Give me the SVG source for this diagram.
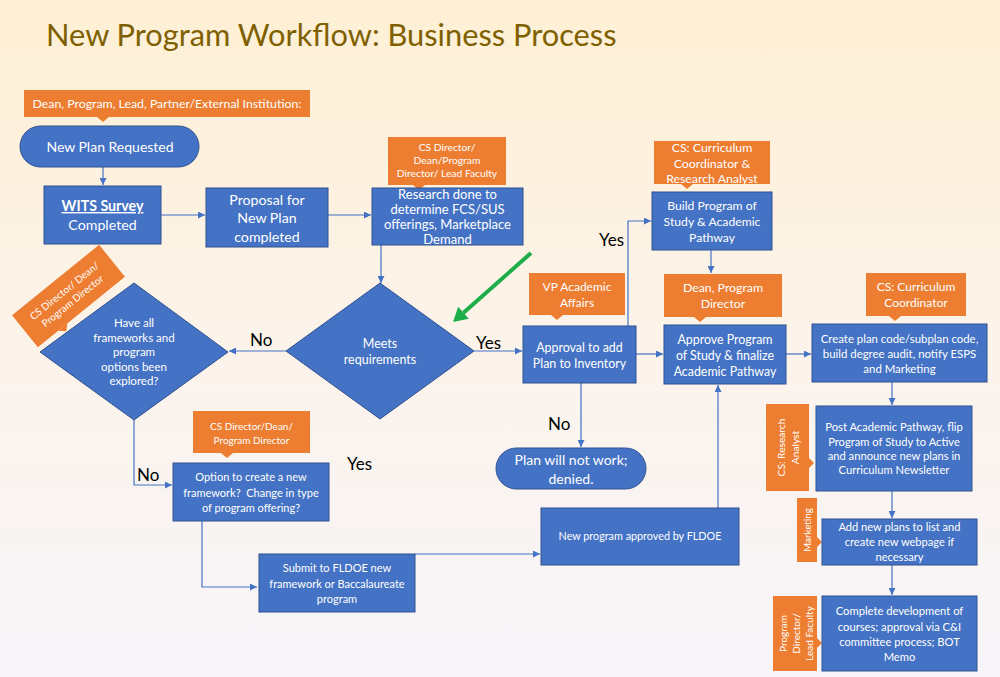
<svg xmlns="http://www.w3.org/2000/svg" width="1000" height="677" viewBox="0 0 1000 677">
<defs>
<linearGradient id="bg" x1="0" y1="0" x2="0" y2="1">
<stop offset="0" stop-color="#FEF0D4"/>
<stop offset="0.5" stop-color="#FCF3EA"/>
<stop offset="1" stop-color="#F7F5FA"/>
</linearGradient>
<marker id="ah" viewBox="0 0 10 10" refX="10" refY="5" markerWidth="7" markerHeight="7" markerUnits="userSpaceOnUse" orient="auto">
<path d="M0,0 L10,5 L0,10 z" fill="#4472C4"/>
</marker>
<style>
.box{fill:#4472C4;stroke:#2F528F;stroke-width:1}
.lab{fill:#ED7D31}
.t{font-family:Lato,"Liberation Sans",sans-serif;fill:#fff;text-anchor:middle}
.k{font-family:Lato,"Liberation Sans",sans-serif;fill:#000;font-size:17px}
.c{fill:none;stroke:#4472C4;stroke-width:1.2;marker-end:url(#ah)}
</style>
</defs>
<rect width="1000" height="677" fill="url(#bg)"/>
<text x="46" y="46" font-family="Lato,'Liberation Sans',sans-serif" font-size="30.8" fill="#7F6000">New Program Workflow: Business Process</text>

<g id="connectors">
<path class="c" d="M103,167 V185"/>
<path class="c" d="M161,215 H205"/>
<path class="c" d="M328,215 H371"/>
<path class="c" d="M381,245 V283"/>
<path class="c" d="M474,351 H522"/>
<path class="c" d="M286,351 H229"/>
<path class="c" d="M134,420 V485 H172"/>
<path class="c" d="M202,521 V587 H257"/>
<path class="c" d="M415,554 H540"/>
<path class="c" d="M718,508 V385"/>
<path class="c" d="M581,383 V447"/>
<path class="c" d="M628,326 V221 H651"/>
<path class="c" d="M636,354 H663"/>
<path class="c" d="M711,250 V273"/>
<path class="c" d="M786,354 H811"/>
<path class="c" d="M892,382 V405"/>
<path class="c" d="M892,491 V518"/>
<path class="c" d="M892,565 V595"/>
<text class="k" x="250" y="346">No</text>
<text class="k" x="476" y="349">Yes</text>
<text class="k" x="137" y="481">No</text>
<text class="k" x="347" y="470">Yes</text>
<text class="k" x="548" y="430">No</text>
<text class="k" x="599" y="246">Yes</text>
<g id="green-arrow">
<line x1="531" y1="253" x2="463.5" y2="312.7" stroke="#1DAE4A" stroke-width="4"/>
<polygon points="453,322 468.8,318.7 458.2,306.7" fill="#1DAE4A"/>
</g>
</g>

<g id="lab-requester">
<rect class="lab" x="24" y="90" width="286" height="27"/>
<polygon class="lab" points="97,117 109,117 103,122"/>
<text class="t" x="167" y="108" font-size="12.3">Dean, Program, Lead, Partner/External Institution:</text>
</g>

<g id="new-plan-requested">
<rect class="box" x="20" y="126" width="179" height="41" rx="20.5"/>
<text class="t" x="110" y="151.5" font-size="14">New Plan Requested</text>
</g>

<g id="wits-survey">
<rect class="box" x="44" y="186" width="117" height="58"/>
<text class="t" x="102.5" y="211" font-size="14.2" font-weight="bold" text-decoration="underline">WITS Survey</text>
<text class="t" x="102.5" y="230" font-size="14.2">Completed</text>
</g>

<g id="proposal">
<rect class="box" x="206" y="188" width="122" height="59"/>
<text class="t" font-size="14.2"><tspan x="267" y="204.5">Proposal for</tspan><tspan x="267" y="223">New Plan</tspan><tspan x="267" y="241.5">completed</tspan></text>
</g>

<g id="lab-research">
<rect class="lab" x="388" y="137" width="118" height="48"/>
<polygon class="lab" points="413,185 425,185 419,190"/>
<text class="t" font-size="10.3"><tspan x="447" y="151">CS Director/</tspan><tspan x="447" y="164">Dean/Program</tspan><tspan x="447" y="177">Director/ Lead Faculty</tspan></text>
</g>

<g id="research">
<rect class="box" x="372" y="188" width="151" height="57"/>
<text class="t" font-size="13"><tspan x="447.5" y="198.5">Research done to</tspan><tspan x="447.5" y="213.5">determine FCS/SUS</tspan><tspan x="447.5" y="228.5">offerings, Marketplace</tspan><tspan x="447.5" y="243.5">Demand</tspan></text>
</g>

<g id="meets-requirements">
<polygon class="box" points="380,283 474,351 380,419 286,351"/>
<text class="t" font-size="12.5"><tspan x="380" y="347.5">Meets</tspan><tspan x="380" y="363.5">requirements</tspan></text>
</g>

<g id="frameworks-explored">
<polygon class="box" points="134,283 228,352 134,420 40,352"/>
<text class="t" font-size="11.5"><tspan x="134" y="327">Have all</tspan><tspan x="134" y="342">frameworks and</tspan><tspan x="134" y="356">program</tspan><tspan x="134" y="371">options been</tspan><tspan x="134" y="385">explored?</tspan></text>
</g>

<g id="lab-frameworks" transform="translate(68.5,296) rotate(-39)">
<rect class="lab" x="-56" y="-20.5" width="112" height="41"/>
<polygon class="lab" points="-30,20.5 -18,20.5 -24,26"/>
<text class="t" font-size="10"><tspan x="0" y="-3">CS Director/ Dean/</tspan><tspan x="0" y="10">Program Director</tspan></text>
</g>

<g id="lab-option">
<rect class="lab" x="193" y="411" width="117" height="42"/>
<polygon class="lab" points="221,453 233,453 227,458"/>
<text class="t" font-size="10"><tspan x="251.5" y="429.5">CS Director/Dean/</tspan><tspan x="251.5" y="443.5">Program Director</tspan></text>
</g>

<g id="option">
<rect class="box" x="173" y="463" width="156" height="58"/>
<text class="t" font-size="11" xml:space="preserve"><tspan x="251" y="481">Option to create a new</tspan><tspan x="251" y="496.5">framework?  Change in type</tspan><tspan x="251" y="512">of program offering?</tspan></text>
</g>

<g id="submit">
<rect class="box" x="259" y="554" width="156" height="58"/>
<text class="t" font-size="11"><tspan x="337" y="572">Submit to FLDOE new</tspan><tspan x="337" y="588">framework or Baccalaureate</tspan><tspan x="337" y="603">program</tspan></text>
</g>

<g id="fldoe-approved">
<rect class="box" x="541" y="508" width="198" height="57"/>
<text class="t" x="640" y="540" font-size="10.8">New program approved by FLDOE</text>
</g>

<g id="plan-denied">
<rect class="box" x="496" y="448" width="150" height="41" rx="20.5"/>
<text class="t" font-size="14"><tspan x="571" y="465">Plan will not work;</tspan><tspan x="571" y="483.5">denied.</tspan></text>
</g>

<g id="lab-vp">
<rect class="lab" x="529" y="273" width="96" height="42"/>
<polygon class="lab" points="551,315 563,315 557,320"/>
<text class="t" font-size="12"><tspan x="577" y="290.5">VP Academic</tspan><tspan x="577" y="307">Affairs</tspan></text>
</g>

<g id="approval-inventory">
<rect class="box" x="523" y="326" width="113" height="57"/>
<text class="t" font-size="12.4"><tspan x="579.5" y="351.5">Approval to add</tspan><tspan x="579.5" y="367.5">Plan to Inventory</tspan></text>
</g>

<g id="lab-build">
<rect class="lab" x="654" y="141" width="116" height="43"/>
<polygon class="lab" points="681,184 693,184 687,189"/>
<text class="t" font-size="12.3"><tspan x="712" y="151.5">CS: Curriculum</tspan><tspan x="712" y="167.5">Coordinator &amp;</tspan><tspan x="712" y="183">Research Analyst</tspan></text>
</g>

<g id="build-program">
<rect class="box" x="652" y="192" width="120" height="58"/>
<text class="t" font-size="12.2"><tspan x="712" y="209.5">Build Program of</tspan><tspan x="712" y="226">Study &amp; Academic</tspan><tspan x="712" y="241.5">Pathway</tspan></text>
</g>

<g id="lab-approve">
<rect class="lab" x="664" y="274" width="118" height="43"/>
<polygon class="lab" points="694,317 706,317 700,322"/>
<text class="t" font-size="12.3"><tspan x="723" y="292">Dean, Program</tspan><tspan x="723" y="308">Director</tspan></text>
</g>

<g id="approve-program">
<rect class="box" x="664" y="325" width="122" height="59"/>
<text class="t" font-size="12.4"><tspan x="725" y="343.5">Approve Program</tspan><tspan x="725" y="359.5">of Study &amp; finalize</tspan><tspan x="725" y="375.5">Academic Pathway</tspan></text>
</g>

<g id="lab-create">
<rect class="lab" x="866" y="273" width="100" height="43"/>
<polygon class="lab" points="889,316 901,316 895,321"/>
<text class="t" font-size="12"><tspan x="916" y="291">CS: Curriculum</tspan><tspan x="916" y="307">Coordinator</tspan></text>
</g>

<g id="create-plan-code">
<rect class="box" x="812" y="324" width="175" height="58"/>
<text class="t" font-size="11.4"><tspan x="899.5" y="343">Create plan code/subplan code,</tspan><tspan x="899.5" y="358">build degree audit, notify ESPS</tspan><tspan x="899.5" y="373">and Marketing</tspan></text>
</g>

<g id="lab-post" transform="translate(787.5,447.5)">
<rect class="lab" x="-21.5" y="-43.5" width="43" height="87"/>
<polygon class="lab" points="21.5,10.5 21.5,20.5 26.5,15.5"/>
<text class="t" font-size="10.2" transform="rotate(-90)"><tspan x="0" y="-2.5">CS: Research</tspan><tspan x="0" y="11">Analyst</tspan></text>
</g>

<g id="post-pathway">
<rect class="box" x="816" y="406" width="156" height="85"/>
<text class="t" font-size="11.2"><tspan x="894" y="431">Post Academic Pathway, flip</tspan><tspan x="894" y="446">Program of Study to Active</tspan><tspan x="894" y="460">and announce new plans in</tspan><tspan x="894" y="474">Curriculum Newsletter</tspan></text>
</g>

<g id="lab-marketing" transform="translate(807,530)">
<rect class="lab" x="-10" y="-32" width="20" height="64"/>
<polygon class="lab" points="10,7 10,17 15,12"/>
<text class="t" font-size="9.8" transform="rotate(-90)"><tspan x="0" y="3.5">Marketing</tspan></text>
</g>

<g id="add-plans">
<rect class="box" x="822" y="519" width="155" height="46"/>
<text class="t" font-size="11.1"><tspan x="899.5" y="531">Add new plans to list and</tspan><tspan x="899.5" y="546">create new webpage if</tspan><tspan x="899.5" y="561">necessary</tspan></text>
</g>

<g id="lab-complete" transform="translate(795,633.5)">
<rect class="lab" x="-22" y="-37.5" width="44" height="75"/>
<polygon class="lab" points="22,4.5 22,14.5 27,9.5"/>
<text class="t" font-size="10" transform="rotate(-90)"><tspan x="0" y="-8.5">Program</tspan><tspan x="0" y="4.5">Director/</tspan><tspan x="0" y="17.5">Lead Faculty</tspan></text>
</g>

<g id="complete-development">
<rect class="box" x="822" y="596" width="155" height="75"/>
<text class="t" font-size="11.2"><tspan x="899.5" y="615">Complete development of</tspan><tspan x="899.5" y="630.5">courses; approval via C&amp;I</tspan><tspan x="899.5" y="646">committee process; BOT</tspan><tspan x="899.5" y="661">Memo</tspan></text>
</g>
</svg>
